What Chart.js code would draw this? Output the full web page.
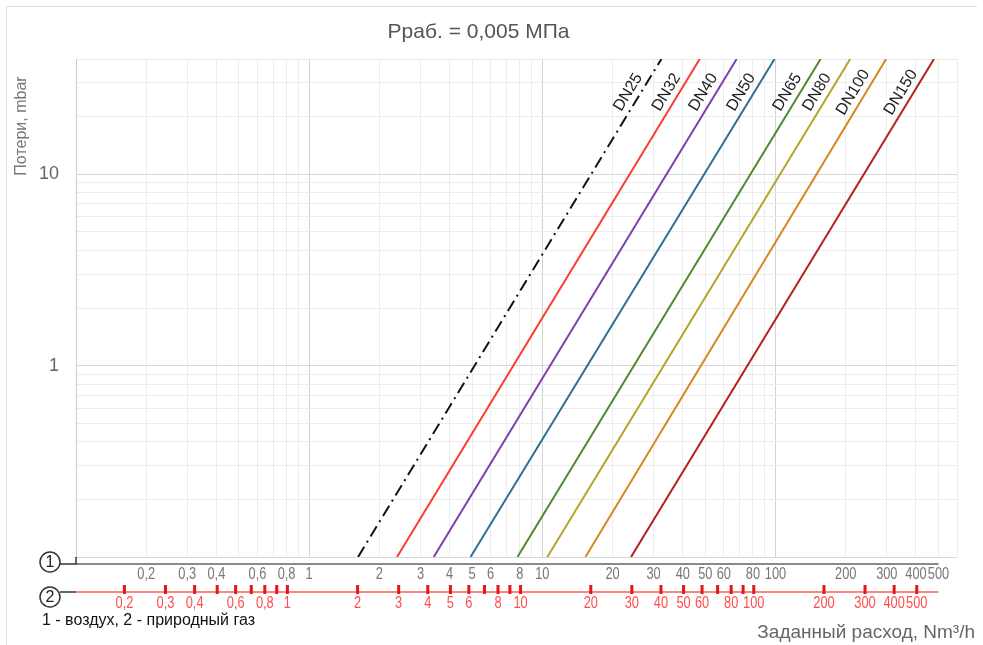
<!DOCTYPE html>
<html>
<head>
<meta charset="utf-8">
<script src="https://cdn.jsdelivr.net/npm/chart.js@4.4.1/dist/chart.umd.min.js"></script>
<style>
  body { margin: 0; background: #fff; }
  #wrap { width: 983px; height: 645px; position: relative; }
</style>
</head>
<body>
<div id="wrap"><canvas id="lossChart"></canvas></div>
<script>
// ---- data ----
var titleText = 'Рраб. = 0,005 МПа';
var seriesNames = ['DN25', 'DN32', 'DN40', 'DN50', 'DN65', 'DN80', 'DN100', 'DN150'];
var seriesColors = ['#111111', '#ff3b30', '#7d3fae', '#2f6e96', '#4f8a2e', '#b4a52a', '#d8861f', '#b3201e'];
// flow (air, Nm3/h) where each line leaves the bottom (0.1 mbar) and reaches the top (40 mbar)
var lossEnds = [0.1, 40];
var flowAtLow = [1.62, 2.38, 3.42, 4.92, 7.82, 10.5, 15.3, 24.0];
var flowAtHigh = [32.4, 47.3, 68.1, 99, 156, 209, 298, 478];

var airLabels = [0.2, 0.3, 0.4, 0.6, 0.8, 1, 2, 3, 4, 5, 6, 8, 10, 20, 30, 40, 50, 60, 80, 100, 200, 300, 400, 500];
var gasTicks = [0.2, 0.3, 0.4, 0.5, 0.6, 0.7, 0.8, 0.9, 1, 2, 3, 4, 5, 6, 7, 8, 9, 10,
                20, 30, 40, 50, 60, 70, 80, 90, 100, 200, 300, 400, 500];
var gasLabels = [0.2, 0.3, 0.4, 0.6, 0.8, 1, 2, 3, 4, 5, 6, 8, 10, 20, 30, 40, 50, 60, 80, 100, 200, 300, 400, 500];
var gasFactor = 1.24; // natural gas flow = air flow * factor
var yLabels = [1, 10];

var X_MIN = 0.1, X_MAX = 600, Y_MIN = 0.1, Y_MAX = 40;

// grid lines: every integer multiple inside each decade
function decadeGrid(min, max) {
  var out = [];
  for (var d = min; d < max; d *= 10) {
    for (var k = 1; k <= 9; k++) {
      var v = parseFloat((k * d).toPrecision(6));
      if (v <= max) out.push(v);
    }
  }
  return out;
}
var xGrid = decadeGrid(X_MIN, X_MAX);
var yGrid = decadeGrid(Y_MIN, Y_MAX);

function inList(list, v) {
  return list.some(function(w) { return Math.abs(w - v) < 1e-9 * Math.max(1, v); });
}
function fmt(v) { return String(v).replace('.', ','); }
function isDecade(v) {
  var l = Math.log10(v);
  return Math.abs(l - Math.round(l)) < 1e-9;
}

var mainFont = 'Arial, "Liberation Sans", sans-serif';

var datasets = seriesNames.map(function(name, i) {
  return {
    label: name,
    data: [{ x: flowAtLow[i], y: lossEnds[0] }, { x: flowAtHigh[i], y: lossEnds[1] }],
    borderColor: seriesColors[i],
    borderWidth: 2,
    borderDash: i === 0 ? [12, 5, 2, 5] : [],
    pointRadius: 0,
    showLine: true,
    fill: false
  };
});

// condensed tick text, like the narrow labels of the original
function narrowText(ctx, text, x, y) {
  ctx.save();
  ctx.translate(x, y);
  ctx.scale(0.8, 1);
  ctx.fillText(text, 0, 0);
  ctx.restore();
}

// extra drawing: air/gas flow axes, markers, captions and line names
var overlay = {
  id: 'overlay',
  afterDraw: function(chart) {
    var ctx = chart.ctx, a = chart.chartArea;
    var xs = chart.scales.x, ys = chart.scales.y;
    ctx.save();

    // frame
    ctx.strokeStyle = '#dddddd';
    ctx.lineWidth = 1;
    ctx.beginPath();
    ctx.moveTo(6.5, 645); ctx.lineTo(6.5, 6.5); ctx.lineTo(977, 6.5);
    ctx.stroke();

    var xEnd = xs.getPixelForValue(500);
    var yAir = a.bottom + 7;
    var yGas = a.bottom + 35;
    var cx = a.left - 26;

    // air axis
    ctx.strokeStyle = '#8a8a8a';
    ctx.lineWidth = 2;
    ctx.beginPath(); ctx.moveTo(a.left, yAir); ctx.lineTo(xEnd, yAir); ctx.stroke();
    ctx.fillStyle = '#777';
    ctx.font = '16px ' + mainFont;
    ctx.textAlign = 'center';
    ctx.textBaseline = 'middle';
    airLabels.forEach(function(v) {
      narrowText(ctx, fmt(v), xs.getPixelForValue(v), yAir + 11);
    });

    // gas axis
    ctx.strokeStyle = '#ff5c5c';
    ctx.lineWidth = 1.5;
    ctx.beginPath(); ctx.moveTo(a.left, yGas); ctx.lineTo(xEnd, yGas); ctx.stroke();
    ctx.fillStyle = '#e5141e';
    gasTicks.forEach(function(v) {
      var px = xs.getPixelForValue(v / gasFactor);
      ctx.fillRect(px - 1.5, yGas - 7, 3, 9);
    });
    ctx.fillStyle = '#ff4d4d';
    gasLabels.forEach(function(v) {
      narrowText(ctx, fmt(v), xs.getPixelForValue(v / gasFactor), yGas + 12);
    });

    // markers 1 and 2 with connectors
    ctx.strokeStyle = '#333';
    ctx.lineWidth = 1.5;
    ctx.beginPath();
    ctx.moveTo(cx + 10, yAir); ctx.lineTo(a.left, yAir); ctx.lineTo(a.left, a.bottom);
    ctx.moveTo(cx + 10, yGas); ctx.lineTo(a.left, yGas);
    ctx.stroke();
    [[a.bottom + 5, '1'], [a.bottom + 40, '2']].forEach(function(m) {
      ctx.beginPath();
      ctx.arc(cx, m[0], 10, 0, Math.PI * 2);
      ctx.fillStyle = '#fff';
      ctx.fill();
      ctx.stroke();
      ctx.fillStyle = '#222';
      ctx.font = '16px ' + mainFont;
      ctx.fillText(m[1], cx, m[0] + 1);
    });

    // captions
    ctx.textAlign = 'left';
    ctx.fillStyle = '#111';
    ctx.font = '16px ' + mainFont;
    ctx.fillText('1 - воздух, 2 - природный газ', 42, 621);

    ctx.textAlign = 'right';
    ctx.fillStyle = '#666';
    ctx.font = '19px ' + mainFont;
    ctx.fillText('Заданный расход, Nm³/h', 975, 633);

    ctx.save();
    ctx.translate(22, 126);
    ctx.rotate(-Math.PI / 2);
    ctx.textAlign = 'center';
    ctx.fillStyle = '#777';
    ctx.font = '16px ' + mainFont;
    ctx.fillText('Потери, mbar', 0, 0);
    ctx.restore();

    // line names, placed along each line near the top
    ctx.font = '16px ' + mainFont;
    ctx.fillStyle = '#222';
    ctx.textAlign = 'center';
    ctx.textBaseline = 'bottom';
    seriesNames.forEach(function(name, i) {
      var x0 = xs.getPixelForValue(flowAtLow[i]), y0 = ys.getPixelForValue(lossEnds[0]);
      var x1 = xs.getPixelForValue(flowAtHigh[i]), y1 = ys.getPixelForValue(lossEnds[1]);
      var ang = Math.atan2(y1 - y0, x1 - x0);
      var yA = ys.getPixelForValue(25);
      var t = (yA - y0) / (y1 - y0);
      var xA = x0 + t * (x1 - x0);
      ctx.save();
      ctx.translate(xA, yA);
      ctx.rotate(ang);
      ctx.fillText(name, 0, -3);
      ctx.restore();
    });

    ctx.restore();
  }
};

var ctx = document.getElementById('lossChart').getContext('2d');
var lossChart = new Chart(ctx, {
  type: 'scatter',
  data: { datasets: datasets },
  options: {
    responsive: true,
    maintainAspectRatio: false,
    animation: false,
    layout: { padding: { top: 0, right: 26, bottom: 0, left: 0 } },
    plugins: {
      legend: { display: false },
      tooltip: { enabled: false },
      title: {
        display: true,
        text: titleText,
        color: '#555',
        font: { family: mainFont, size: 21, weight: 'normal' },
        padding: { top: 19.4, bottom: 14.4 }
      }
    },
    scales: {
      x: {
        type: 'logarithmic',
        min: X_MIN,
        max: X_MAX,
        afterBuildTicks: function(scale) {
          scale.ticks = xGrid.map(function(v) { return { value: v }; });
        },
        afterFit: function(scale) { scale.height = 88; },
        ticks: { display: false },
        grid: {
          drawTicks: false,
          color: function(c) { return c.tick && isDecade(c.tick.value) ? '#d4d4d4' : '#ececec'; }
        },
        border: { display: false }
      },
      y: {
        type: 'logarithmic',
        min: Y_MIN,
        max: Y_MAX,
        afterBuildTicks: function(scale) {
          scale.ticks = yGrid.map(function(v) { return { value: v }; });
        },
        afterFit: function(scale) { scale.width = 76; },
        ticks: {
          autoSkip: false,
          padding: 17,
          color: '#666',
          font: { family: mainFont, size: 18 },
          callback: function(v) { return inList(yLabels, v) ? fmt(v) : ''; }
        },
        grid: {
          drawTicks: false,
          color: function(c) { return c.tick && isDecade(c.tick.value) ? '#d8d8d8' : '#ececec'; }
        },
        border: { display: true, color: '#cccccc' }
      }
    }
  },
  plugins: [overlay]
});
</script>
</body>
</html>
